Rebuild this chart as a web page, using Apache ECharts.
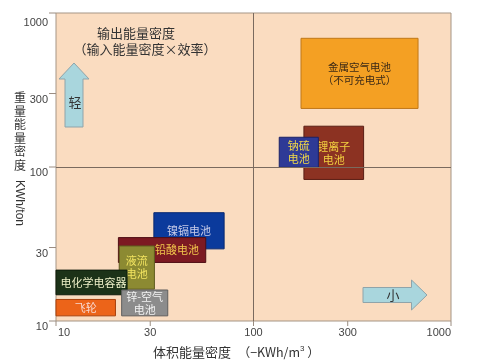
<!DOCTYPE html>
<html>
<head>
<meta charset="utf-8">
<script src="https://cdn.jsdelivr.net/npm/echarts@6/dist/echarts.min.js"></script>
<style>html,body{margin:0;padding:0;background:#fff;}#c{width:484px;height:362px;}</style>
</head>
<body>
<div id="c"></div>
<script>
// ---- data ----
const categories = ['金属空气电池\n（不可充电式）', '锂离子\n电池', '钠硫\n电池', '镍镉电池', '铅酸电池', '液流\n电池', '电化学电容器', '飞轮', '锌-空气\n电池'];
const xLow  = [174, 180, 135, 31.3, 20.7, 20.9, 10,   10,   21.5];
const xHigh = [681, 361, 213, 71,   57.3, 31.5, 22.9, 20,   36.8];
const yLow  = [240, 83,  99.5, 29.4, 24.0, 16.1, 14.8, 10.8, 10.8];
const yHigh = [685, 184, 156, 50.5, 34.8, 30.7, 21.4, 13.8, 15.9];
const xTicks = [10, 30, 100, 300, 1000];
const xTickLabels = ['10', '30', '100', '300', '1000'];
const yTicks = [10, 30, 100, 300, 1000];
const yTickLabels = ['10', '30', '100', '300', '1000'];
const dividerX = 100;
const dividerY = 100;

// ---- styles ----
const fills   = ['#F4A023', '#8C3222', '#2E3A96', '#0B3A9C', '#7C1A22', '#8C8A32', '#1C3218', '#EC6419', '#8C8C8C'];
const strokes = ['#C07818', '#5A1E14', '#1A2266', '#082870', '#4E0E14', '#5E5C1E', '#0E1C0C', '#A8400C', '#5E5E5E'];
const textCols = ['#3A2816', '#F2D040', '#F0D848', '#C8CCE8', '#F2C84C', '#F2E460', '#EEF0C8', '#F8D8D0', '#F2F2F2'];
const textDx = [0, 0, 0, 0, 15, 0, 2, 0, 0];
const CJK = '"Noto Sans CJK SC", "Noto Sans", sans-serif';
const LAT = '"Liberation Sans", Arial, sans-serif';

const chart = echarts.init(document.getElementById('c'), null, {renderer: 'canvas'});

const rectData = categories.map((n, i) => ({name: n, value: [xLow[i], xHigh[i], yLow[i], yHigh[i]]}));

chart.setOption({
  animation: false,
  grid: {left: 56, top: 13, right: 33, bottom: 41, show: true, backgroundColor: '#FADCC0', borderColor: '#A59585', borderWidth: 1},
  xAxis: {type: 'log', logBase: 10, min: 10, max: 1000, axisLine: {show: false}, axisTick: {show: false}, axisLabel: {show: false}, splitLine: {show: false}},
  yAxis: {type: 'log', logBase: 10, min: 10, max: 1000, axisLine: {show: false}, axisTick: {show: false}, axisLabel: {show: false}, splitLine: {show: false}},
  series: [
    {
      type: 'line', data: [], z: 1, silent: true,
      markLine: {
        symbol: 'none', silent: true, label: {show: false},
        lineStyle: {color: '#7A6A5E', width: 1, type: 'solid'},
        data: [{xAxis: dividerX}, {yAxis: dividerY}]
      }
    },
    {
      type: 'custom', z: 3, clip: false,
      encode: {x: [0, 1], y: [2, 3]},
      data: rectData,
      renderItem: function (params, api) {
        const i = params.dataIndex;
        const p0 = api.coord([api.value(0), api.value(3)]);
        const p1 = api.coord([api.value(1), api.value(2)]);
        const w = p1[0] - p0[0], h = p1[1] - p0[1];
        return {
          type: 'group',
          children: [
            {type: 'rect', shape: {x: p0[0], y: p0[1], width: w, height: h},
             style: {fill: fills[i], stroke: strokes[i], lineWidth: 1}},
            {type: 'text', x: p0[0] + w / 2 + textDx[i], y: p0[1] + h / 2,
             style: {text: categories[i], fill: textCols[i], font: (i === 0 ? '10.5px ' : '11px ') + CJK,
                     align: 'center', verticalAlign: 'middle', lineHeight: 13}}
          ]
        };
      }
    },
    {
      type: 'custom', z: 4, clip: false, silent: true,
      encode: {x: 0, y: 1},
      data: xTicks.map(v => [v, 10]),
      renderItem: function (params, api) {
        const i = params.dataIndex;
        const p = api.coord([api.value(0), api.value(1)]);
        const last = i === xTicks.length - 1, first = i === 0;
        return {type: 'group', children: [
          {type: 'line', shape: {x1: p[0], y1: p[1], x2: p[0], y2: p[1] + 5}, style: {stroke: '#9A8C80', lineWidth: 1}},
          {type: 'text', x: first ? p[0] + 2 : p[0], y: p[1] + 12,
           style: {text: xTickLabels[i], fill: '#444', font: '11px ' + LAT, align: first ? 'left' : (last ? 'right' : 'center'), verticalAlign: 'middle'}}
        ]};
      }
    },
    {
      type: 'custom', z: 4, clip: false, silent: true,
      encode: {x: 0, y: 1},
      data: yTicks.map(v => [10, v]),
      renderItem: function (params, api) {
        const i = params.dataIndex;
        const p = api.coord([api.value(0), api.value(1)]);
        return {type: 'group', children: [
          {type: 'line', shape: {x1: p[0] - 7, y1: p[1], x2: p[0], y2: p[1]}, style: {stroke: '#9A8C80', lineWidth: 1}},
          {type: 'text', x: p[0] - 8, y: p[1] + (i === yTicks.length - 1 ? 10 : 6),
           style: {text: yTickLabels[i], fill: '#444', font: '11px ' + LAT, align: 'right', verticalAlign: 'middle'}}
        ]};
      }
    }
  ],
  graphic: [
    {type: 'text', x: 136, y: 33, z: 10, style: {text: '输出能量密度', font: '13px ' + CJK, fill: '#333', align: 'center', verticalAlign: 'middle'}},
    {type: 'text', x: 145, y: 49, z: 10, style: {text: '（输入能量密度×效率）', font: '13px ' + CJK, fill: '#333', align: 'center', verticalAlign: 'middle'}},
    {type: 'polygon', z: 10, shape: {points: [[65, 127], [65, 79], [59, 79], [74, 63], [89, 79], [83, 79], [83, 127]]},
     style: {fill: '#A9D6DD', stroke: '#8FA4AA', lineWidth: 1}},
    {type: 'text', x: 75, y: 102, z: 11, style: {text: '轻', font: '13px ' + CJK, fill: '#333', align: 'center', verticalAlign: 'middle'}},
    {type: 'polygon', z: 10, shape: {points: [[363, 287.5], [411.5, 287.5], [411.5, 280], [427, 295], [411.5, 310], [411.5, 302.5], [363, 302.5]]},
     style: {fill: '#A9D6DD', stroke: '#8FA4AA', lineWidth: 1}},
    {type: 'text', x: 393, y: 295, z: 11, style: {text: '小', font: '13px ' + CJK, fill: '#333', align: 'center', verticalAlign: 'middle'}},
    {type: 'text', x: 20, y: 91, z: 10, style: {text: '重\n量\n能\n量\n密\n度', font: '12px ' + CJK, fill: '#333', align: 'center', verticalAlign: 'top', lineHeight: 13.5}},
    {type: 'text', x: 19, y: 203, rotation: -Math.PI / 2, z: 10, style: {text: 'KWh/ton', font: '12px ' + LAT, fill: '#333', align: 'center', verticalAlign: 'middle'}},
    {type: 'text', x: 153, y: 352, z: 10, style: {
      text: '{a|体积能量密度}  {b|（−KWh/m}{s|3}{b| ）}', verticalAlign: 'middle',
      rich: {
        a: {font: '13px ' + CJK, fill: '#333'},
        b: {font: '12.5px ' + CJK, fill: '#333'},
        s: {font: '8px ' + LAT, fill: '#333', verticalAlign: 'top', padding: [0, 0, 6, 0]}
      }
    }}
  ]
});
</script>
</body>
</html>
